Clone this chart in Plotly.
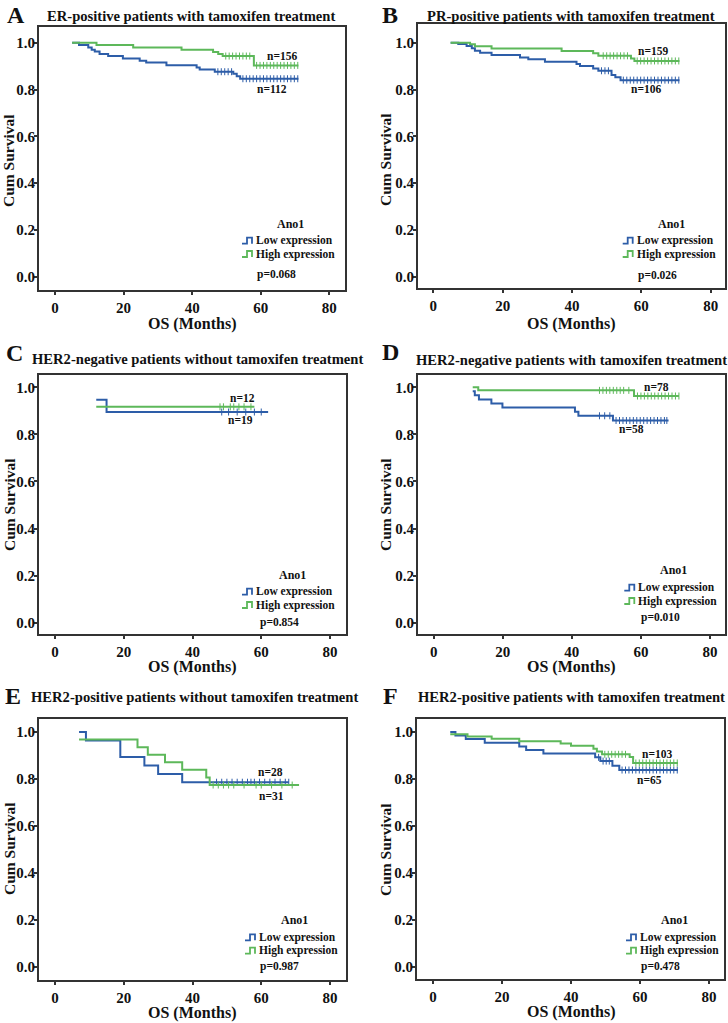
import plotly.graph_objects as go

W, H = 728, 1023
BLUE = "#2D5DA8"
GREEN = "#5DB85A"
FONT = "Liberation Serif"

# ---------------- data (months, cumulative survival) ----------------
# Panel A
A_low_t = [5, 7, 9.7, 10.7, 11.6, 13, 15.5, 19.8, 24.7, 26.6, 32.5, 41.3, 42.2, 46.6, 52, 53, 54]
A_low_s = [1.0, 0.990, 0.980, 0.970, 0.962, 0.952, 0.943, 0.933, 0.923, 0.915, 0.904, 0.894, 0.886, 0.876, 0.867, 0.857, 0.846]
A_low_end = 71
A_low_cens = [47.5, 48.5, 49.5, 50.5, 51.5, 54.8, 55.8, 56.8, 57.8, 58.8, 59.8, 60.8, 61.8, 62.8, 63.8, 64.8, 65.8, 66.8, 67.8, 68.8, 69.8, 70.8]
A_high_t = [5, 12.1, 22.8, 36.9, 46.1, 47.6, 48.9, 58]
A_high_s = [1.0, 0.990, 0.980, 0.970, 0.960, 0.952, 0.943, 0.903]
A_high_end = 71
A_high_cens = [49.8, 50.8, 51.8, 52.8, 53.8, 54.8, 55.8, 56.8, 58.8, 59.8, 60.8, 61.8, 62.8, 63.8, 64.8, 65.8, 66.8, 67.8, 68.8, 69.8, 70.8]

# Panel B
B_low_t = [5, 7.2, 9.6, 11.1, 12.0, 13.5, 16.8, 25, 27.4, 32.2, 41.3, 42.3, 46.1, 47.6, 51.4, 52.5, 54]
B_low_s = [1.0, 0.994, 0.986, 0.976, 0.966, 0.957, 0.947, 0.937, 0.929, 0.919, 0.909, 0.900, 0.890, 0.880, 0.862, 0.852, 0.840]
B_low_end = 71
B_low_cens = [48.5, 49.5, 50.5, 54.8, 55.8, 56.8, 57.8, 58.8, 59.8, 60.8, 61.8, 62.8, 63.8, 64.8, 65.8, 66.8, 67.8, 68.8, 69.8, 70.8]
B_high_t = [5, 10.6, 12, 16.8, 37, 46.1, 47.6, 57, 58]
B_high_s = [1.0, 0.993, 0.985, 0.975, 0.965, 0.955, 0.944, 0.932, 0.922]
B_high_end = 71
B_high_cens = [49, 50, 51, 52, 53, 54, 55, 56, 58.8, 59.8, 60.8, 61.8, 62.8, 63.8, 64.8, 65.8, 66.8, 67.8, 68.8, 69.8, 70.8]

# Panel C
C_low_t = [12, 15]
C_low_s = [0.947, 0.895]
C_low_end = 62
C_low_cens = [48.5, 50.5, 53, 55.5, 58, 60]
C_high_t = [12]
C_high_s = [0.917]
C_high_end = 58
C_high_cens = [48, 49, 51, 52, 53.5, 55, 57]

# Panel D
D_low_t = [11.3, 11.9, 13.1, 16.7, 19.9, 40.9, 41.9, 51.9]
D_low_s = [0.983, 0.966, 0.948, 0.931, 0.914, 0.896, 0.879, 0.859]
D_low_end = 68
D_low_cens = [48, 49.5, 51, 52.8, 53.8, 54.8, 55.8, 56.8, 57.8, 58.8, 59.8, 60.8, 61.8, 62.8, 63.8, 64.8, 65.8, 66.8, 67.5]
D_high_t = [11.3, 12.9, 58]
D_high_s = [1.0, 0.987, 0.963]
D_high_end = 71
D_high_cens = [48, 49, 50, 51, 52, 53, 54, 55, 56.5, 59, 60, 61, 62, 63, 64, 65, 66, 67, 68, 69, 70, 71]

# Panel E
E_low_t = [7, 9, 19, 26, 30, 37]
E_low_s = [1.0, 0.964, 0.893, 0.857, 0.821, 0.786]
E_low_end = 68
E_low_cens = [47, 48.5, 50, 51.5, 53, 54.5, 56, 57, 58, 59.5, 61, 62.5, 64, 65.5, 67, 68]
E_high_t = [7, 24, 27, 32, 37, 44, 45]
E_high_s = [0.968, 0.935, 0.903, 0.871, 0.839, 0.806, 0.774]
E_high_end = 71
E_high_cens = [46, 47.5, 49, 50.5, 52, 55, 58.5, 60, 63, 66, 69]

# Panel F
F_low_t = [5, 6.5, 9.5, 15, 25, 27, 32, 47, 48.5, 52, 54]
F_low_s = [1.0, 0.985, 0.970, 0.954, 0.938, 0.923, 0.908, 0.892, 0.876, 0.856, 0.838]
F_low_end = 71
F_low_cens = [48, 49.3, 50.2, 51.1, 54.8, 55.8, 56.8, 57.8, 58.8, 59.8, 60.8, 61.8, 62.8, 63.8, 64.8, 65.8, 66.8, 67.8, 68.8, 69.8, 70.8]
F_high_t = [5, 10, 17, 25, 37, 40, 46.5, 47.5, 49, 57, 58]
F_high_s = [0.990, 0.981, 0.971, 0.961, 0.951, 0.941, 0.929, 0.917, 0.905, 0.893, 0.868]
F_high_end = 71
F_high_cens = [49.8, 50.8, 51.8, 52.8, 53.8, 54.8, 55.8, 58.8, 59.8, 60.8, 61.8, 62.8, 63.8, 64.8, 65.8, 66.8, 67.8, 68.8, 69.8, 70.8]

letters = ["A", "B", "C", "D", "E", "F"]
titles = [
    "ER-positive patients with tamoxifen treatment",
    "PR-positive patients with tamoxifen treatment",
    "HER2-negative patients without tamoxifen treatment",
    "HER2-negative patients with tamoxifen treatment",
    "HER2-positive patients without tamoxifen treatment",
    "HER2-positive patients with tamoxifen treatment",
]
n_low = ["n=112", "n=106", "n=19", "n=58", "n=31", "n=65"]
n_high = ["n=156", "n=159", "n=12", "n=78", "n=28", "n=103"]
p_values = ["p=0.068", "p=0.026", "p=0.854", "p=0.010", "p=0.987", "p=0.478"]
legend_title = "Ano1"
legend_labels = ["Low expression", "High expression"]
x_ticks = [0, 20, 40, 60, 80]
y_ticks = [0.0, 0.2, 0.4, 0.6, 0.8, 1.0]

curves = {
    "A": (A_low_t, A_low_s, A_low_end, A_low_cens, A_high_t, A_high_s, A_high_end, A_high_cens),
    "B": (B_low_t, B_low_s, B_low_end, B_low_cens, B_high_t, B_high_s, B_high_end, B_high_cens),
    "C": (C_low_t, C_low_s, C_low_end, C_low_cens, C_high_t, C_high_s, C_high_end, C_high_cens),
    "D": (D_low_t, D_low_s, D_low_end, D_low_cens, D_high_t, D_high_s, D_high_end, D_high_cens),
    "E": (E_low_t, E_low_s, E_low_end, E_low_cens, E_high_t, E_high_s, E_high_end, E_high_cens),
    "F": (F_low_t, F_low_s, F_low_end, F_low_cens, F_high_t, F_high_s, F_high_end, F_high_cens),
}

# ---------------- layout geometry (pixels) ----------------
# box (x0, x1, y0, y1), tick pixel positions (x@0, x@80, y@1, y@0)
geom = {
    "A": ((39, 345, 27, 290), (55, 329.3, 42.7, 276.7)),
    "B": ((418, 725, 24, 288), (433.3, 710.7, 42.7, 276.7)),
    "C": ((39, 346, 375, 634), (55, 330, 387.3, 622.7)),
    "D": ((418, 725, 375, 634), (433.7, 710, 387.3, 622.7)),
    "E": ((39, 346, 719, 980), (55, 330, 732, 966.7)),
    "F": ((417, 724, 719, 979), (433, 709, 732, 966.7)),
}
# text positions (pixels)
pos = {
    "A": ((16, 15), (191, 16), (9, 161), (192, 324), (281.7, 55.7), (271.7, 89.3), (290, 224), (255, 240.7, 254), (276, 274)),
    "B": ((390, 15), (570.5, 16), (386, 160), (571, 324), (652.7, 50.7), (645.7, 88.7), (671.5, 224), (635.7, 240.7, 254), (657, 275)),
    "C": ((14, 353), (197, 359), (9, 505), (192, 667), (242, 398.3), (240.7, 420), (292.5, 575), (255, 591.7, 605), (279, 622.7)),
    "D": ((390, 352), (571, 360), (385, 505), (571, 667), (656.5, 387.3), (631.5, 429.3), (673, 570), (637.3, 587.7, 601), (660, 617)),
    "E": ((13, 696), (194, 697), (9, 849), (192, 1013), (270.8, 771.7), (271, 795.7), (294, 920), (258, 937.3, 950.7), (279, 966.7)),
    "F": ((390, 696), (571, 697), (385, 850), (571, 1012), (657.3, 754.3), (649.8, 780), (674.5, 920), (639, 937.3, 950.7), (660, 966.7)),
}


def px(x):
    return x / W


def py(y):
    return 1 - y / H


def step_value(ts, ss, t):
    v = ss[0]
    for ti, si in zip(ts, ss):
        if ti <= t:
            v = si
    return v


fig = go.Figure()
annotations = []
shapes = []

for i, key in enumerate(letters):
    n = i + 1
    xa = "x" if n == 1 else f"x{n}"
    ya = "y" if n == 1 else f"y{n}"
    (bx0, bx1, by0, by1), (tx0, tx80, ty1, ty0) = geom[key]
    ppx = (tx80 - tx0) / 80.0
    xr = [-(tx0 - bx0) / ppx, 80 + (bx1 - tx80) / ppx]
    ppy = (ty0 - ty1)
    yr = [-(by1 - ty0) / ppy, 1 + (ty1 - by0) / ppy]

    lt, ls, lend, lc, ht, hs, hend, hc = curves[key]
    for ts, ss, end, cens, col in ((lt, ls, lend, lc, BLUE), (ht, hs, hend, hc, GREEN)):
        fig.add_trace(go.Scatter(
            x=list(ts) + [end], y=list(ss) + [ss[-1]], mode="lines",
            line=dict(color=col, width=2, shape="hv"), xaxis=xa, yaxis=ya,
            showlegend=False, hoverinfo="skip"))
        fig.add_trace(go.Scatter(
            x=cens, y=[step_value(ts, ss, c) for c in cens], mode="markers",
            marker=dict(symbol="line-ns", size=5, line=dict(color=col, width=1)),
            xaxis=xa, yaxis=ya, showlegend=False, hoverinfo="skip"))

    axkw = dict(showline=True, mirror=True, linecolor="#333333", linewidth=2,
                showgrid=False, zeroline=False, ticks="outside", ticklen=3,
                tickcolor="#333333", tickwidth=1.5,
                tickfont=dict(family=FONT, size=15, color="#111111", weight="bold"))
    fig.update_layout(**{
        ("xaxis" if n == 1 else f"xaxis{n}"): dict(
            domain=[px(bx0), px(bx1)], range=xr, anchor=ya, tickvals=x_ticks, **axkw),
        ("yaxis" if n == 1 else f"yaxis{n}"): dict(
            domain=[py(by1), py(by0)], range=yr, anchor=xa, tickvals=y_ticks,
            tickformat=".1f", ticklabelstandoff=-4, **axkw),
    })

    (lx, ly), (ttx, tty), (yx, yy), (xx, xy), (nhx, nhy), (nlx, nly), (ax_, ay_), (lgx, lgy1, lgy2), (ppx_, ppy_) = pos[key]

    def ann(text, x, y, size, anchor="center", angle=0):
        annotations.append(dict(text=text, x=px(x), y=py(y), xref="paper", yref="paper",
                                xanchor=anchor, yanchor="middle", showarrow=False,
                                textangle=angle, borderpad=0,
                                font=dict(family=FONT, size=size, color="#111111", weight="bold")))

    ann(key, lx, ly, 24)
    ann(titles[i], ttx, tty, 14.6)
    ann("Cum Survival", yx, yy, 15.5, angle=-90)
    ann("OS (Months)", xx, xy, 16)
    ann(n_high[i], nhx, nhy, 11.5)
    ann(n_low[i], nlx, nly, 11.5)
    ann(legend_title, ax_, ay_, 12)
    ann(legend_labels[0], lgx, lgy1, 11.5, anchor="left")
    ann(legend_labels[1], lgx, lgy2, 11.5, anchor="left")
    ann(p_values[i], ppx_, ppy_, 11.5)

    for yy_, col in ((lgy1, BLUE), (lgy2, GREEN)):
        g0 = lgx - 13
        yb, yt = yy_ + 3, yy_ - 3
        pts = [(g0, yb), (g0 + 5, yb), (g0 + 5, yt), (g0 + 10, yt), (g0 + 10, yb)]
        path = "M " + " L ".join(f"{px(a):.5f},{py(b):.5f}" for a, b in pts)
        shapes.append(dict(type="path", xref="paper", yref="paper", path=path,
                           line=dict(color=col, width=1.8)))

fig.update_layout(
    width=W, height=H, margin=dict(l=0, r=0, t=0, b=0),
    paper_bgcolor="white", plot_bgcolor="white",
    annotations=annotations, shapes=shapes, showlegend=False,
)

fig.write_html("out.html", config={"displayModeBar": False},
               post_script="document.body.style.margin='0';document.body.style.overflow='hidden';")
